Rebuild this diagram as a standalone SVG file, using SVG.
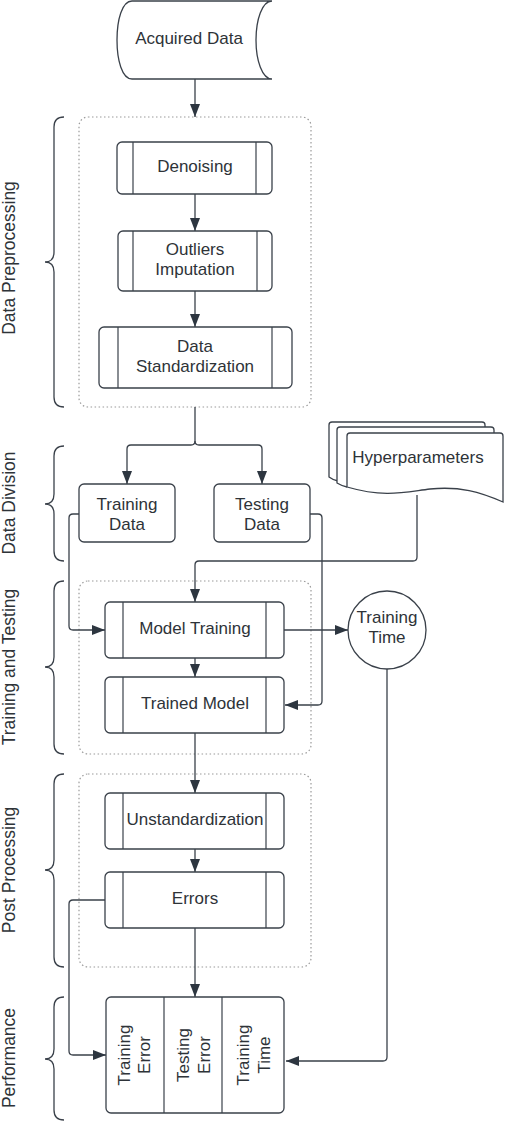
<svg xmlns="http://www.w3.org/2000/svg" width="505" height="1123" viewBox="0 0 505 1123">
<defs>
<style>
.n{fill:#fff;stroke:#3a414a;stroke-width:1.3}
.d{stroke:#3a414a;stroke-width:1.2}
.c{fill:none;stroke:#3a414a;stroke-width:1.3}
.g{fill:none;stroke:#9a9a9a;stroke-width:1.2;stroke-dasharray:1.5 2.5}
.b{fill:none;stroke:#3a414a;stroke-width:1.3}
text{font-family:"Liberation Sans",Arial,sans-serif;font-size:17px;fill:#2e3338;text-anchor:middle}
.l{font-size:17.5px}
</style>
<marker id="ah" markerUnits="userSpaceOnUse" markerWidth="14" markerHeight="11" refX="13" refY="5" orient="auto">
<path d="M0,0 L13,5 L0,10 Z" fill="#2d3640"/>
</marker>
</defs>

<g id="containers">
<rect class="g" x="79" y="117" width="232" height="290" rx="9"/>
<rect class="g" x="79" y="581" width="232" height="173" rx="9"/>
<rect class="g" x="79" y="774" width="232" height="193" rx="9"/>
</g>

<g id="braces">
<path class="b" d="M64,117 Q54,117 54,127 L54,252 Q54,262 45,262 Q54,262 54,272 L54,397 Q54,407 64,407"/>
<path class="b" d="M64,446 Q54,446 54,456 L54,494 Q54,504 45,504 Q54,504 54,514 L54,551 Q54,561 64,561"/>
<path class="b" d="M64,581 Q54,581 54,591 L54,657 Q54,667 45,667 Q54,667 54,677 L54,744 Q54,754 64,754"/>
<path class="b" d="M64,774 Q54,774 54,784 L54,860 Q54,870 45,870 Q54,870 54,880 L54,957 Q54,967 64,967"/>
<path class="b" d="M64,997 Q54,997 54,1007 L54,1049 Q54,1059 45,1059 Q54,1059 54,1069 L54,1110 Q54,1120 64,1120"/>
</g>

<g id="section-labels">
<text class="l" transform="translate(15,258) rotate(-90)">Data Preprocessing</text>
<text class="l" transform="translate(15,503) rotate(-90)">Data Division</text>
<text class="l" transform="translate(15,667) rotate(-90)">Training and Testing</text>
<text class="l" transform="translate(15,870) rotate(-90)">Post Processing</text>
<text class="l" transform="translate(15,1058) rotate(-90)">Performance</text>
</g>

<g id="connectors">
<path class="c" d="M195,79 V117" marker-end="url(#ah)"/>
<path class="c" d="M195,194 V231" marker-end="url(#ah)"/>
<path class="c" d="M195,291 V327" marker-end="url(#ah)"/>
<path class="c" d="M195,407 V441 Q195,445 191,445 H131 Q127,445 127,449 V484" marker-end="url(#ah)"/>
<path class="c" d="M195,441 Q195,445 199,445 H258 Q262,445 262,449 V484" marker-end="url(#ah)"/>
<path class="c" d="M417,495 V557 Q417,561 413,561 H199 Q195,561 195,565 V602" marker-end="url(#ah)"/>
<path class="c" d="M79,514 H73 Q69,514 69,518 V626 Q69,630 73,630 H105" marker-end="url(#ah)"/>
<path class="c" d="M310,514 H318 Q322,514 322,518 V701 Q322,705 318,705 H285" marker-end="url(#ah)"/>
<path class="c" d="M284,630 H348" marker-end="url(#ah)"/>
<path class="c" d="M195,658 V677" marker-end="url(#ah)"/>
<path class="c" d="M195,733 V793" marker-end="url(#ah)"/>
<path class="c" d="M195,849 V872" marker-end="url(#ah)"/>
<path class="c" d="M105,900 H73 Q69,900 69,904 V1051 Q69,1055 73,1055 H106" marker-end="url(#ah)"/>
<path class="c" d="M195,928 V997" marker-end="url(#ah)"/>
<path class="c" d="M387,669 V1057 Q387,1061 383,1061 H286" marker-end="url(#ah)"/>
</g>

<g id="acquired-data">
<path class="n" d="M272,1 H132 C122,1 117,20 117,40 C117,60 122,79 132,79 H272 C262,79 256,60 256,40 C256,20 262,1 272,1 Z"/>
<text x="189" y="44">Acquired Data</text>
</g>

<g id="denoising">
<rect class="n" x="117" y="142" width="155" height="52" rx="5"/>
<line class="d" x1="133" y1="142" x2="133" y2="194"/>
<line class="d" x1="256" y1="142" x2="256" y2="194"/>
<text x="195" y="172">Denoising</text>
</g>

<g id="outliers-imputation">
<rect class="n" x="118" y="231" width="154" height="60" rx="5"/>
<line class="d" x1="133" y1="231" x2="133" y2="291"/>
<line class="d" x1="257" y1="231" x2="257" y2="291"/>
<text x="195" y="255">Outliers</text>
<text x="195" y="275">Imputation</text>
</g>

<g id="data-standardization">
<rect class="n" x="99" y="327" width="193" height="61" rx="5"/>
<line class="d" x1="118" y1="327" x2="118" y2="388"/>
<line class="d" x1="272" y1="327" x2="272" y2="388"/>
<text x="195" y="352">Data</text>
<text x="195" y="372">Standardization</text>
</g>

<g id="training-data">
<rect class="n" x="79" y="484" width="96" height="58" rx="5"/>
<text x="127" y="510">Training</text>
<text x="127" y="530">Data</text>
</g>

<g id="testing-data">
<rect class="n" x="214" y="484" width="96" height="58" rx="5"/>
<text x="262" y="510">Testing</text>
<text x="262" y="530">Data</text>
</g>

<g id="hyperparameters">
<path class="n" d="M338,481 Q333,480 329,477 V425 Q329,422 332,422 H482 Q485,422 485,425 V428"/>
<path class="n" d="M347,487 Q342,486 337,483 V430 Q337,427 340,427 H491 Q494,427 494,430 V433"/>
<path class="n" d="M347,487 V436 Q347,433 350,433 H500 Q503,433 503,436 V502 C480,492 460,486 430,489 C405,492 385,498 347,487 Z"/>
<text x="418" y="463">Hyperparameters</text>
</g>

<g id="model-training">
<rect class="n" x="105" y="602" width="179" height="56" rx="5"/>
<line class="d" x1="123" y1="602" x2="123" y2="658"/>
<line class="d" x1="266" y1="602" x2="266" y2="658"/>
<text x="195" y="634">Model Training</text>
</g>

<g id="training-time-circle">
<circle class="n" cx="387" cy="630" r="39"/>
<text x="387" y="623">Training</text>
<text x="387" y="643">Time</text>
</g>

<g id="trained-model">
<rect class="n" x="105" y="677" width="179" height="56" rx="5"/>
<line class="d" x1="123" y1="677" x2="123" y2="733"/>
<line class="d" x1="266" y1="677" x2="266" y2="733"/>
<text x="195" y="709">Trained Model</text>
</g>

<g id="unstandardization">
<rect class="n" x="105" y="793" width="179" height="56" rx="5"/>
<line class="d" x1="123" y1="793" x2="123" y2="849"/>
<line class="d" x1="266" y1="793" x2="266" y2="849"/>
<text x="195" y="825">Unstandardization</text>
</g>

<g id="errors">
<rect class="n" x="105" y="872" width="179" height="56" rx="5"/>
<line class="d" x1="123" y1="872" x2="123" y2="928"/>
<line class="d" x1="266" y1="872" x2="266" y2="928"/>
<text x="195" y="904">Errors</text>
</g>

<g id="performance">
<rect class="n" x="106" y="997" width="178" height="116" rx="5"/>
<line class="d" x1="164" y1="997" x2="164" y2="1113"/>
<line class="d" x1="222" y1="997" x2="222" y2="1113"/>
<text transform="translate(130,1055) rotate(-90)">Training</text>
<text transform="translate(150,1055) rotate(-90)">Error</text>
<text transform="translate(189,1055) rotate(-90)">Testing</text>
<text transform="translate(210,1055) rotate(-90)">Error</text>
<text transform="translate(249,1055) rotate(-90)">Training</text>
<text transform="translate(270,1055) rotate(-90)">Time</text>
</g>
</svg>
